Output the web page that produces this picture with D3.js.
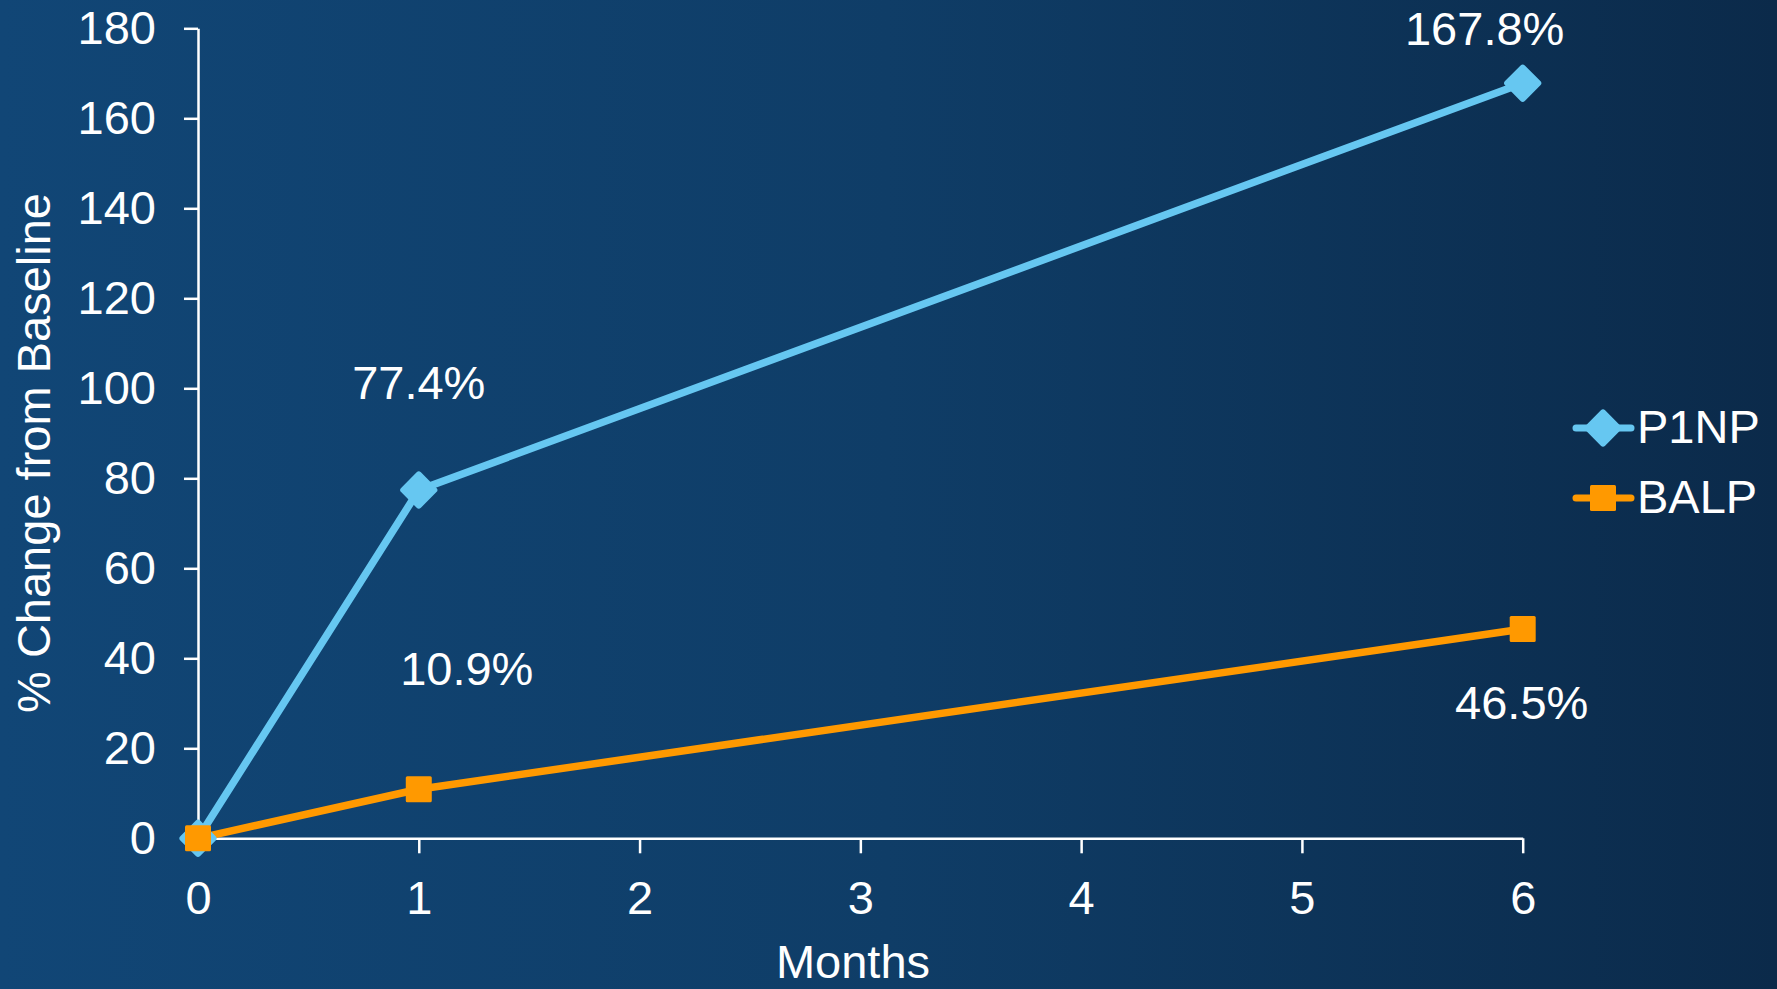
<!DOCTYPE html>
<html>
<head>
<meta charset="utf-8">
<script src="https://cdn.jsdelivr.net/npm/d3@7"></script>
<style>
  html, body { margin: 0; padding: 0; background: #0f3d67; }
  svg { display: block; }
  text { font-family: "Liberation Sans", Arial, sans-serif; fill: #ffffff; }
</style>
</head>
<body>
<script>
// Bone formation markers: % change from baseline over time
const months = [0, 1, 6];
const p1npValues = [0, 77.4, 167.8];
const balpValues = [0, 10.9, 46.5];
const seriesNames = ["P1NP", "BALP"];
const xTicks = [0, 1, 2, 3, 4, 5, 6];
const yTicks = [0, 20, 40, 60, 80, 100, 120, 140, 160, 180];

const W = 1777, H = 989;
const FONT = 47;

const svg = d3.select("body").append("svg").attr("width", W).attr("height", H);

// Background gradient
const defs = svg.append("defs");
const grad = defs.append("linearGradient").attr("id", "bg").attr("x1", "0").attr("x2", "1").attr("y1", "0").attr("y2", "0");
grad.append("stop").attr("offset", "0").attr("stop-color", "#114676");
grad.append("stop").attr("offset", "0.5").attr("stop-color", "#0f3d67");
grad.append("stop").attr("offset", "1").attr("stop-color", "#0b2a4a");
svg.append("rect").attr("width", W).attr("height", H).attr("fill", "url(#bg)");

const x = d3.scaleLinear().domain([0, 6]).range([198, 1522.7]);
const y = d3.scaleLinear().domain([0, 180]).range([838.3, 28.3]);

// Axes
const yAxis = svg.append("g").attr("transform", `translate(${x(0)},0)`)
  .call(d3.axisLeft(y).tickValues(yTicks).tickFormat(d3.format("d"))
    .tickSize(14).tickSizeOuter(0).tickPadding(28));
const xAxis = svg.append("g").attr("transform", `translate(0,${y(0)})`)
  .call(d3.axisBottom(x).tickValues(xTicks).tickFormat(d3.format("d"))
    .tickSize(15).tickSizeOuter(0).tickPadding(27));
[yAxis, xAxis].forEach(g => {
  g.selectAll("path.domain").attr("stroke", "#ffffff").attr("stroke-width", 2.5);
  g.selectAll(".tick line").attr("stroke", "#ffffff").attr("stroke-width", 2.5);
  g.selectAll(".tick text").attr("fill", "#ffffff").style("font-size", FONT + "px")
    .style("font-family", '"Liberation Sans", Arial, sans-serif');
});

// Axis titles
svg.append("text").attr("x", 853).attr("y", 978).attr("text-anchor", "middle")
  .style("font-size", FONT + "px").text("Months");
svg.append("text").attr("transform", "translate(50,453) rotate(-90)").attr("text-anchor", "middle")
  .style("font-size", FONT + "px").text("% Change from Baseline");

const series = [
  { name: seriesNames[0], values: p1npValues, color: "#66c7f1", marker: "diamond",
    labelOffsets: [null, [0, -91], [-38, -38]] },
  { name: seriesNames[1], values: balpValues, color: "#ff9900", marker: "square",
    labelOffsets: [null, [48, -104], [-1, 90]] }
];

const line = d3.line().x(d => x(d[0])).y(d => y(d[1]));

function drawMarker(g, type, cx, cy, color) {
  if (type === "diamond") {
    const s = 28;
    g.append("rect").attr("x", cx - s / 2).attr("y", cy - s / 2).attr("width", s).attr("height", s)
      .attr("rx", 3).attr("fill", color)
      .attr("transform", `rotate(45,${cx},${cy})`);
  } else {
    const s = 26;
    g.append("rect").attr("x", cx - s / 2).attr("y", cy - s / 2).attr("width", s).attr("height", s)
      .attr("rx", 1.5).attr("fill", color);
  }
}

// Lines first, then markers; BALP drawn after P1NP so its square covers the diamond at 0
series.forEach(s => {
  const pts = months.map((m, i) => [m, s.values[i]]);
  svg.append("path").datum(pts).attr("d", line).attr("fill", "none")
    .attr("stroke", s.color).attr("stroke-width", 7.5).attr("stroke-linejoin", "round");
});
series.forEach(s => {
  const g = svg.append("g");
  months.forEach((m, i) => drawMarker(g, s.marker, x(m), y(s.values[i]), s.color));
});

// Value labels
series.forEach(s => {
  months.forEach((m, i) => {
    const off = s.labelOffsets[i];
    if (!off) return;
    svg.append("text").attr("x", x(m) + off[0]).attr("y", y(s.values[i]) + off[1])
      .attr("text-anchor", "middle").style("font-size", FONT + "px")
      .text(d3.format(".1f")(s.values[i]) + "%");
  });
});

// Legend
const legend = svg.append("g");
series.forEach((s, i) => {
  const cy = 428 + i * 70;
  legend.append("line").attr("x1", 1576).attr("x2", 1631).attr("y1", cy).attr("y2", cy)
    .attr("stroke", s.color).attr("stroke-width", 7).attr("stroke-linecap", "round");
  drawMarker(legend, s.marker, 1603, cy, s.color);
  legend.append("text").attr("x", 1637).attr("y", cy + 15).style("font-size", FONT + "px").text(s.name);
});
</script>
</body>
</html>
